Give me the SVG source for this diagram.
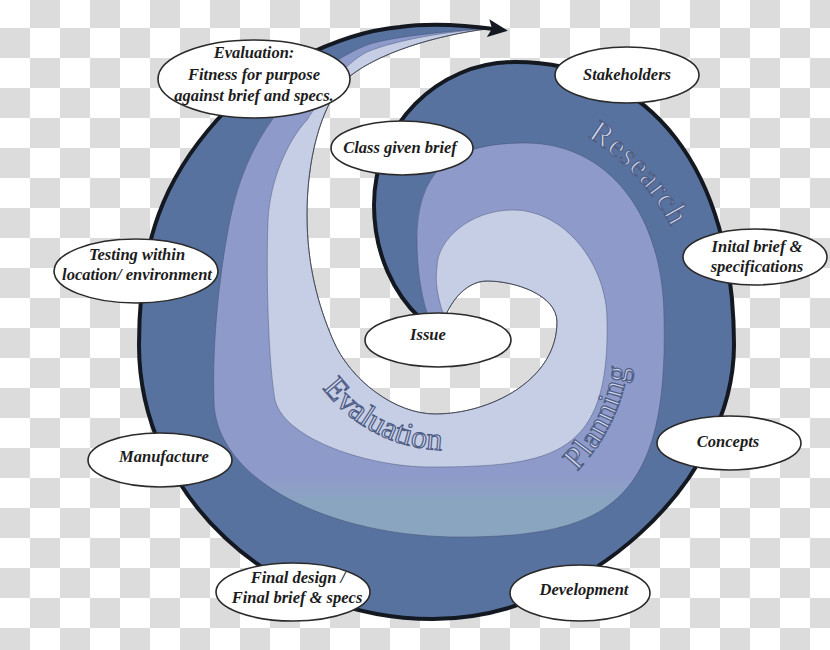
<svg xmlns="http://www.w3.org/2000/svg" width="830" height="650" viewBox="0 0 830 650">
<style>
.node ellipse{fill:#ffffff;stroke:#2a2a2a;stroke-width:1.6}
.node text{font-family:"Liberation Serif","Times New Roman",serif;font-weight:bold;font-style:italic;font-size:16.5px;fill:#1c1c1c;text-anchor:middle}
.band{stroke:#3d4a6e;stroke-width:0.8;stroke-opacity:0.55}
.phase{font-family:"Liberation Serif","Times New Roman",serif;font-size:32px;fill:#cdd5ea;stroke:#4f5d85;stroke-width:1.2;text-anchor:middle}
</style>
<defs>
<linearGradient id="medGrad" gradientUnits="userSpaceOnUse" x1="0" y1="478" x2="0" y2="502">
<stop offset="0" stop-color="#8e9bca"/>
<stop offset="1" stop-color="#8aa5c0"/>
</linearGradient>
<marker id="arrow" markerUnits="userSpaceOnUse" markerWidth="22" markerHeight="20" refX="10" refY="9" orient="auto">
<path d="M0,0 L20,9 L0,18 L4,9 Z" fill="#141820"/>
</marker>
<path id="pRes" d="M573.3,129.1 A226,226 0 0 1 678.4,242.4"/>
<path id="pPlan" d="M562.1,485.5 A190,190 0 0 0 629.9,346.6"/>
<path id="pEval" d="M309.1,366.8 A155,155 0 0 0 466.8,448.9"/>
</defs>
<g id="background">
<rect width="830" height="650" fill="#ffffff"/>
<path fill="#dcdcdc" fill-rule="evenodd" d="M30,-2h30v652h-30zm60,0h30v652h-30zm60,0h30v652h-30zm60,0h30v652h-30zm60,0h30v652h-30zm60,0h30v652h-30zm60,0h30v652h-30zm60,0h30v652h-30zm60,0h30v652h-30zm60,0h30v652h-30zm60,0h30v652h-30zm60,0h30v652h-30zm60,0h30v652h-30zm60,0h30v652h-30z M0,28h830v30h-830zm0,60h830v30h-830zm0,60h830v30h-830zm0,60h830v30h-830zm0,60h830v30h-830zm0,60h830v30h-830zm0,60h830v30h-830zm0,60h830v30h-830zm0,60h830v30h-830zm0,60h830v30h-830zm0,60h830v30h-830z"/>
</g>
<g id="spiral">
<path id="band-dark" fill="#58729f" d="M428,330 L420,318 C395,295 374,255 374,205 C374,126 437,62 515,62 C651,62 734,170 734,345 C734,482 583.5,619 433,619 C270.7,619 139,493.7 139,345 C139,240 165,178 217,120 C258,74 335,33 400,27 C428,23 465,25 486,28.5 C440,35 375,52 343,82 C320,110 307,160 307,215 C307,265 318,305 333,340 C350,380 395,414 435,414 C490,414 557,380 557,322 C557,295 515,281 487,281 C465,281 445,305 440,330 Z"/>
<path id="band-medium" class="band" fill="url(#medGrad)" d="M427,335 L427,313 C420,290 417,265 417,240 C417,172 449,143 525,143 C608,143 664,214 664,320 C668,500 610,537 460,537 C330,537 214,480 214,400 C212,340 220,270 230,220 C238,180 252,148 272,120 C295,90 330,60 367,45 C395,36 450,31 486,29 C440,35 375,52 343,82 C320,110 307,160 307,215 C307,265 318,305 333,340 C350,380 395,414 435,414 C490,414 557,380 557,322 C557,295 515,281 487,281 C465,281 445,305 440,335 Z"/>
<path id="band-light" class="band" fill="#c6cee5" d="M443,335 L443,313 C437,295 435,280 437,267 C437,240 470,210 513,210 C565,210 607,265 607,320 C610,455 555,467 430,467 C370,467 285,440 275,400 C268,360 266,270 268,220 C270,180 288,140 307,120 C322,97 340,66 367,52 C395,40 450,31 486,29 C440,35 375,52 343,82 C320,110 307,160 307,215 C307,265 318,305 333,340 C350,380 395,414 435,414 C490,414 557,380 557,322 C557,295 515,281 487,281 C465,281 445,305 440,335 Z"/>
<path id="hole-edge" fill="none" stroke="#3a3a3a" stroke-width="1" stroke-opacity="0.7" d="M486,29 C440,35 375,52 343,82 C320,110 307,160 307,215 C307,265 318,305 333,340 C350,380 395,414 435,414 C490,414 557,380 557,322 C557,295 515,281 487,281 C465,281 445,305 440,335"/>
</g>
<g id="connectors">
<path id="outline-arrow" fill="none" stroke="#141820" stroke-width="4" marker-end="url(#arrow)" d="M428,330 L420,318 C395,295 374,255 374,205 C374,126 437,62 515,62 C651,62 734,170 734,345 C734,482 583.5,619 433,619 C270.7,619 139,493.7 139,345 C139,240 165,178 217,120 C258,74 335,33 400,27 C428,23 465,25 498,29.5"/>
</g>
<g id="phase-labels">
<text class="phase" letter-spacing="1"><textPath href="#pRes" startOffset="50%">Research</textPath></text>
<text class="phase" letter-spacing="0.5"><textPath href="#pPlan" startOffset="50%">Planning</textPath></text>
<text class="phase"><textPath href="#pEval" startOffset="50%">Evaluation</textPath></text>
</g>
<g id="node-evaluation" class="node">
<ellipse cx="254" cy="79" rx="96" ry="39"/>
<text x="254" y="58">Evaluation:</text>
<text x="254" y="80">Fitness for purpose</text>
<text x="254" y="101">against brief and specs.</text>
</g>
<g id="node-class-brief" class="node">
<ellipse cx="402" cy="148" rx="71" ry="27"/>
<text x="400" y="153">Class given brief</text>
</g>
<g id="node-stakeholders" class="node">
<ellipse cx="627" cy="75" rx="72" ry="28"/>
<text x="627" y="80">Stakeholders</text>
</g>
<g id="node-initial-brief" class="node">
<ellipse cx="755" cy="257" rx="72" ry="28"/>
<text x="757" y="252">Inital brief &amp;</text>
<text x="757" y="272">specifications</text>
</g>
<g id="node-testing" class="node">
<ellipse cx="136" cy="271" rx="82" ry="32"/>
<text x="137" y="260">Testing within</text>
<text x="137" y="280">location/ environment</text>
</g>
<g id="node-issue" class="node">
<ellipse cx="438" cy="340" rx="73" ry="27"/>
<text x="428" y="340">Issue</text>
</g>
<g id="node-concepts" class="node">
<ellipse cx="729" cy="443" rx="72" ry="27"/>
<text x="728" y="447">Concepts</text>
</g>
<g id="node-manufacture" class="node">
<ellipse cx="160" cy="460" rx="72" ry="27"/>
<text x="164" y="462">Manufacture</text>
</g>
<g id="node-final-design" class="node">
<ellipse cx="293" cy="592" rx="77" ry="29"/>
<text x="298" y="583">Final design /</text>
<text x="297" y="603">Final brief &amp; specs</text>
</g>
<g id="node-development" class="node">
<ellipse cx="580" cy="593" rx="70" ry="28"/>
<text x="584" y="595">Development</text>
</g>
</svg>
